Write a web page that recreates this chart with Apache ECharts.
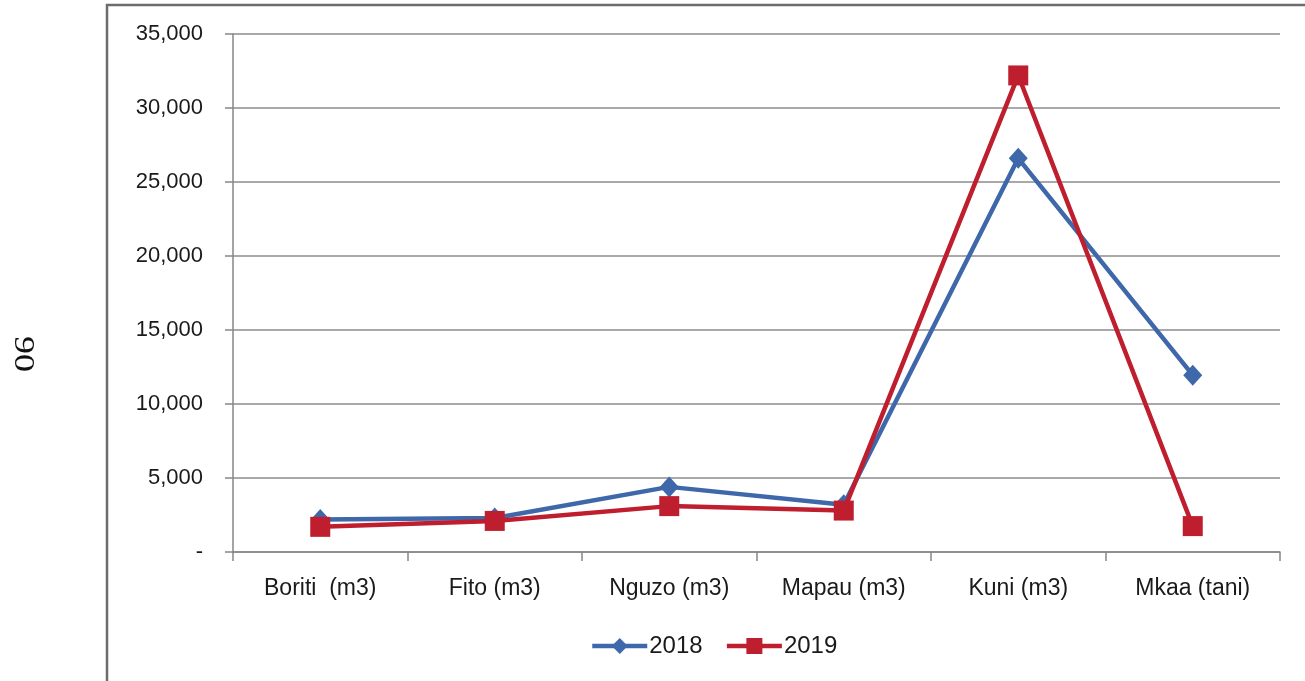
<!DOCTYPE html>
<html>
<head>
<meta charset="utf-8">
<script src="https://cdn.jsdelivr.net/npm/echarts@6/dist/echarts.min.js"></script>
<style>
html,body{margin:0;padding:0;background:#fff;}
#chart{width:1305px;height:681px;}
</style>
</head>
<body>
<div id="chart"></div>
<script>
const categories = ['Boriti  (m3)', 'Fito (m3)', 'Nguzo (m3)', 'Mapau (m3)', 'Kuni (m3)', 'Mkaa (tani)'];
const values2018 = [2200, 2300, 4400, 3200, 26600, 11950];
const values2019 = [1700, 2100, 3100, 2800, 32200, 1750];
const seriesNames = ['2018', '2019'];
const yTicks = { min: 0, max: 35000, interval: 5000 };
const pageNumber = '90';

const chart = echarts.init(document.getElementById('chart'));
const font = 'Liberation Sans, Arial, sans-serif';
const blue = '#3f68aa';
const red = '#be1e2d';
chart.setOption({
  backgroundColor: '#ffffff',
  animation: false,
  graphic: [
    { type: 'rect', shape: { x: 107, y: 5, width: 1300, height: 700 },
      style: { fill: 'none', stroke: '#6c6c6c', lineWidth: 2.5 }, silent: true, z: -1 },
    { type: 'text', x: 23, y: 354, rotation: -Math.PI / 2, scaleX: 1.2,
      style: { text: pageNumber, font: '30px "Liberation Serif", serif', fill: '#111',
               align: 'center', verticalAlign: 'middle' } }
  ],
  grid: { left: 233, right: 25, top: 34, bottom: 129, containLabel: false },
  legend: {
    left: 585, top: 629,
    itemWidth: 55, itemHeight: 20, itemGap: 22,
    lineStyle: { width: 4.5 },
    textStyle: { fontFamily: font, fontSize: 24, color: '#1a1a1a', padding: [0, 0, 0, -3] },
    data: seriesNames
  },
  xAxis: {
    type: 'category',
    data: categories,
    boundaryGap: true,
    axisLine: { show: true, lineStyle: { color: '#868686', width: 1.5 } },
    axisTick: { show: true, length: 9, inside: false, alignWithLabel: false, lineStyle: { color: '#868686', width: 1.5 } },
    axisLabel: { fontFamily: font, fontSize: 23, color: '#1a1a1a', margin: 25 },
    splitLine: { show: false }
  },
  yAxis: {
    type: 'value',
    min: yTicks.min, max: yTicks.max, interval: yTicks.interval,
    axisLine: { show: true, lineStyle: { color: '#868686', width: 1.5 } },
    axisTick: { show: true, length: 8, inside: false, lineStyle: { color: '#868686', width: 1.5 } },
    axisLabel: {
      fontFamily: font, fontSize: 22, color: '#1a1a1a', margin: 30,
      formatter: v => v === 0 ? '-' : v.toLocaleString('en-US')
    },
    splitLine: { show: true, lineStyle: { color: '#8c8c8c', width: 1.5 } }
  },
  series: [
    {
      name: seriesNames[0], type: 'line', data: values2018,
      symbol: 'diamond', symbolSize: [19, 21],
      lineStyle: { color: blue, width: 4.5 },
      itemStyle: { color: blue },
      z: 2
    },
    {
      name: seriesNames[1], type: 'line', data: values2019,
      symbol: 'rect', symbolSize: 20,
      lineStyle: { color: red, width: 4.5 },
      itemStyle: { color: red },
      z: 3
    }
  ]
});
</script>
</body>
</html>
